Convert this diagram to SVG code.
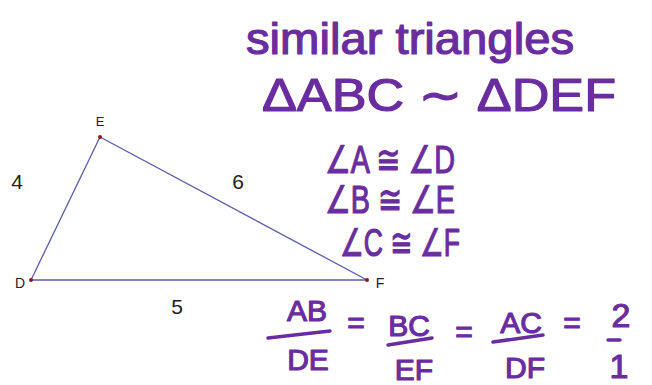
<svg xmlns="http://www.w3.org/2000/svg" width="652" height="385" viewBox="0 0 652 385">
<style>
.lbl{font-family:"Liberation Sans",Arial,sans-serif;fill:#222;}
.hw{font-family:"Liberation Sans","DejaVu Sans",sans-serif;fill:#6a2d9f;stroke:#6a2d9f;stroke-width:1.2;stroke-linejoin:round;}
.fr{stroke:#6a2d9f;stroke-width:3.5;stroke-linecap:round;fill:none;}
.edge{stroke:#5b5ba8;stroke-width:1.3;fill:none;}
.pt{fill:#8b1a1a;}
</style>
<rect width="652" height="385" fill="#fff"/>
<g id="connectors">
<line class="edge" x1="31" y1="280" x2="100" y2="137"/>
<line class="edge" x1="100" y1="137" x2="367" y2="280"/>
<line class="edge" x1="31" y1="280" x2="367" y2="280"/>
</g>
<g id="node-E"><circle class="pt" cx="100" cy="137" r="2"/><text class="lbl" x="100" y="126" font-size="13" text-anchor="middle">E</text></g>
<g id="node-D"><circle class="pt" cx="31" cy="280" r="2"/><text class="lbl" x="20" y="288" font-size="14" text-anchor="middle">D</text></g>
<g id="node-F"><circle class="pt" cx="367" cy="280" r="2"/><text class="lbl" x="380" y="288" font-size="14" text-anchor="middle">F</text></g>
<g id="side-labels">
<text class="lbl" x="17" y="189" font-size="21" text-anchor="middle">4</text>
<text class="lbl" x="238" y="189" font-size="21" text-anchor="middle">6</text>
<text class="lbl" x="177" y="314" font-size="21" text-anchor="middle">5</text>
</g>
<g id="title">
<text class="hw" x="246" y="54" font-size="44" textLength="328" lengthAdjust="spacingAndGlyphs">similar triangles</text>
<text class="hw" x="262" y="111" font-size="46" textLength="354" lengthAdjust="spacingAndGlyphs">ΔABC ∼ ΔDEF</text>
</g>
<g id="angles">
<text class="hw" x="325" y="173" font-size="38" textLength="130" lengthAdjust="spacingAndGlyphs">∠A ≅ ∠D</text>
<text class="hw" x="325" y="213" font-size="38" textLength="130" lengthAdjust="spacingAndGlyphs">∠B ≅ ∠E</text>
<text class="hw" x="340" y="256" font-size="38" textLength="120" lengthAdjust="spacingAndGlyphs">∠C ≅ ∠F</text>
</g>
<g id="ratios">
<text class="hw" x="307" y="321" font-size="30" text-anchor="middle">AB</text>
<path class="fr" d="M268 338 L330 331"/>
<text class="hw" x="308" y="370" font-size="30" text-anchor="middle">DE</text>
<text class="hw" x="356" y="333" font-size="30" text-anchor="middle">=</text>
<text class="hw" x="409" y="336" font-size="30" text-anchor="middle">BC</text>
<path class="fr" d="M388 345 L432 338"/>
<text class="hw" x="414" y="380" font-size="30" text-anchor="middle">EF</text>
<text class="hw" x="464" y="342" font-size="30" text-anchor="middle">=</text>
<text class="hw" x="521" y="333" font-size="30" text-anchor="middle">AC</text>
<path class="fr" d="M493 342 L543 335"/>
<text class="hw" x="525" y="378" font-size="30" text-anchor="middle">DF</text>
<text class="hw" x="572" y="333" font-size="30" text-anchor="middle">=</text>
<text class="hw" x="621" y="327" font-size="34" text-anchor="middle">2</text>
<path class="fr" d="M608 340 L620 340"/>
<text class="hw" x="619" y="378" font-size="34" text-anchor="middle">1</text>
</g>
</svg>
